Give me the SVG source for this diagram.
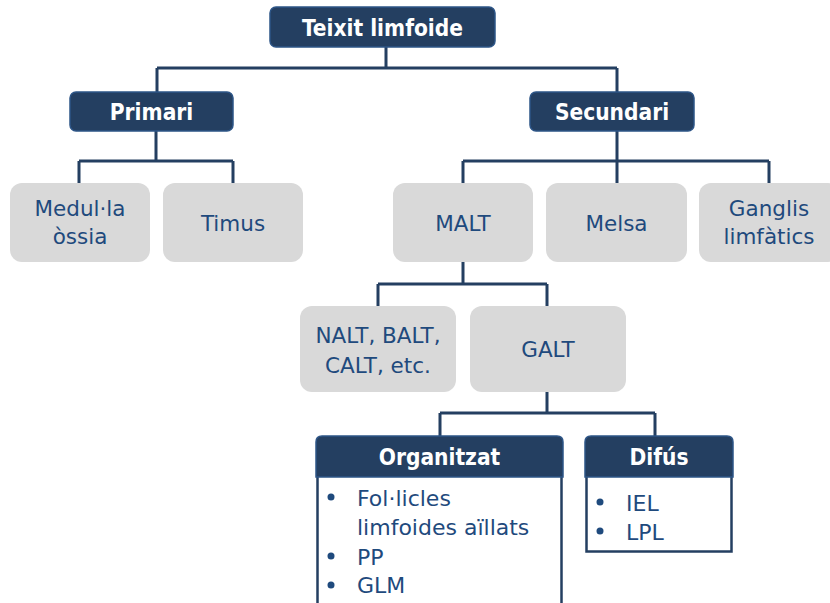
<svg xmlns="http://www.w3.org/2000/svg" width="830" height="603" viewBox="0 0 830 603">
<style>
.dark{fill:#243F61;stroke:#2D5587;stroke-width:1.5}
.grey{fill:#D9D9D9}
.line{fill:none;stroke:#243F61;stroke-width:3}
.ht{font-family:"DejaVu Sans Condensed","DejaVu Sans",sans-serif;font-weight:bold;font-size:22.5px;fill:#FFFFFF;text-anchor:middle}
.nt{font-family:"DejaVu Sans",sans-serif;font-size:21.5px;fill:#1F4A7D;text-anchor:middle}
.lt{font-family:"DejaVu Sans",sans-serif;font-size:22px;fill:#1F4A7D}
.bul{fill:#1F4A7D}
.body{fill:#FFFFFF;stroke:#243F61;stroke-width:2.5}
</style>
<g id="connectors">
<path class="line" d="M386 47V68M157 68H617M157 68V92M617 68V92"/>
<path class="line" d="M156 131V161M79 161H233M79 161V183M233 161V183"/>
<path class="line" d="M617 131V161M463 161H769M463 161V183M617 161V183M769 161V183"/>
<path class="line" d="M463 262V284M378 284H547M378 284V306M547 284V306"/>
<path class="line" d="M547 392V413M440 413H655M440 413V436M655 413V436"/>
</g>
<g id="teixit">
<rect class="dark" x="270" y="7" width="225" height="40" rx="6"/>
<text class="ht" x="382.5" y="35.5">Teixit limfoide</text>
</g>
<g id="primari">
<rect class="dark" x="70" y="92" width="163" height="39" rx="6"/>
<text class="ht" x="151.5" y="119.5">Primari</text>
</g>
<g id="secundari">
<rect class="dark" x="530" y="92" width="164" height="39" rx="6"/>
<text class="ht" x="612" y="119.5">Secundari</text>
</g>
<g id="medulla">
<rect class="grey" x="10" y="183" width="140" height="79" rx="12"/>
<text class="nt" x="80" y="216">Medul·la</text>
<text class="nt" x="80" y="244">òssia</text>
</g>
<g id="timus">
<rect class="grey" x="163" y="183" width="140" height="79" rx="12"/>
<text class="nt" x="233" y="231">Timus</text>
</g>
<g id="malt">
<rect class="grey" x="393" y="183" width="140" height="79" rx="12"/>
<text class="nt" x="463" y="231">MALT</text>
</g>
<g id="melsa">
<rect class="grey" x="546" y="183" width="141" height="79" rx="12"/>
<text class="nt" x="616.5" y="231">Melsa</text>
</g>
<g id="ganglis">
<rect class="grey" x="699" y="183" width="141" height="79" rx="12"/>
<text class="nt" x="769" y="216">Ganglis</text>
<text class="nt" x="769" y="244">limfàtics</text>
</g>
<g id="nalt">
<rect class="grey" x="300" y="306" width="156" height="86" rx="12"/>
<text class="nt" x="378" y="343">NALT, BALT,</text>
<text class="nt" x="378" y="373">CALT, etc.</text>
</g>
<g id="galt">
<rect class="grey" x="470" y="306" width="156" height="86" rx="12"/>
<text class="nt" x="548" y="357">GALT</text>
</g>
<g id="organitzat">
<rect class="body" x="317.5" y="470" width="244" height="150"/>
<path class="dark" d="M316 477V442Q316 436 322 436H557Q563 436 563 442V477Z"/>
<text class="ht" x="439.5" y="464.5">Organitzat</text>
<circle class="bul" cx="331" cy="497" r="3.5"/>
<text class="lt" x="357" y="506">Fol·licles</text>
<text class="lt" x="357" y="535">limfoides aïllats</text>
<circle class="bul" cx="331" cy="556" r="3.5"/>
<text class="lt" x="357" y="565">PP</text>
<circle class="bul" cx="331" cy="585" r="3.5"/>
<text class="lt" x="357" y="593">GLM</text>
</g>
<g id="difus">
<rect class="body" x="586.5" y="470" width="145" height="81.5"/>
<path class="dark" d="M585 477V442Q585 436 591 436H727Q733 436 733 442V477Z"/>
<text class="ht" x="659" y="464.5">Difús</text>
<circle class="bul" cx="600" cy="502" r="3.5"/>
<text class="lt" x="626" y="511">IEL</text>
<circle class="bul" cx="600" cy="531" r="3.5"/>
<text class="lt" x="626" y="540">LPL</text>
</g>
</svg>
